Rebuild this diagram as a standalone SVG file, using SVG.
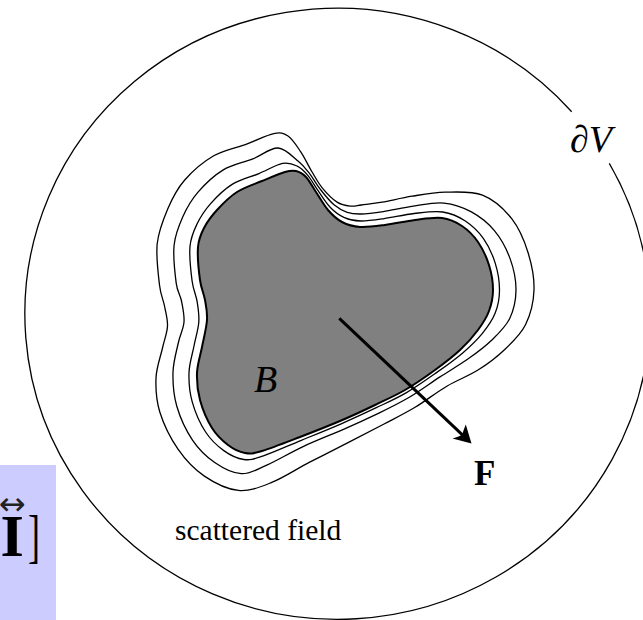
<svg xmlns="http://www.w3.org/2000/svg" width="643" height="620" viewBox="0 0 643 620">
<style>
.line{fill:none;stroke:#000;stroke-width:1.3}
.contour{fill:none;stroke:#000;stroke-width:1.3}
.body{fill:#808080;stroke:#000;stroke-width:2}
.serif{font-family:"Liberation Serif","Times New Roman",serif;fill:#000}
</style>
<rect width="643" height="620" fill="#fff"/>
<g id="side-formula">
<rect x="0" y="465" width="56" height="155" fill="#ccccff"/>
<text x="-1" y="514.5" font-family="DejaVu Sans, sans-serif" font-size="32" fill="#222">↔</text>
<text class="serif" x="0.5" y="555.7" font-size="60" font-weight="bold" fill="#1e1a1a">I</text>
<text class="serif" transform="translate(28,555.7) scale(0.6,1)" font-size="60" fill="#5a2a2a">]</text>
</g>
<g id="volume-boundary">
<path class="line" d="M609.3,163.3 A312.5,305.5 0 1 1 571.7,111.7"/>
</g>
<g id="scattered-field-contours">
<path class="contour" d="M157.2,243.8 C158.6,231.2 163.1,219.9 167.6,209.3 S176.8,189.2 184.5,180.3 S203.4,161.8 213.7,155.8 S236.6,147.8 246.6,144.1 S266.8,135 273.7,133.6 S283.5,133 288,136 S296.6,145.7 300.6,151.6 S308.2,165.5 311.8,171.5 S318,182.7 322.2,187.8 S332.4,199.1 337.1,202.1 S346.4,205.6 350.5,206.1 S356.2,205.7 361.5,205 S373.7,203.7 382.1,202.2 S401.6,197.9 412.1,196.2 S433.6,192.4 445.3,192.2 S471.4,190.8 482.5,195.2 S504.1,209.1 511.7,218.7 S524.4,240.9 528.1,252.8 S534.4,278 534,290 S530.4,314.8 525.5,324.7 S512.4,342.2 504.5,349.7 S488,363.7 478.4,369.8 S457.4,380 446.8,386.2 S425.6,401 415.1,407.3 S395.1,418.2 384.1,424 S361.4,435.8 349,442.2 S322.7,455.5 309.7,462.2 S283.1,478 271.2,482.7 S249.5,491.5 238.4,490.4 S214.5,483 204.4,476.1 S185.4,459.8 178,449.1 S163.5,423.9 159.8,412 S155.6,388.7 156,378 S160.6,356.7 162.5,348 S167.2,333 167.5,326 S165.8,312.8 164.5,306 S160.7,295.4 159.5,285 S155.9,256.4 157.2,243.8 Z"/>
<path class="contour" d="M174.1,245.2 C175.2,234.2 178.8,225.8 182.7,217 S191.1,200.2 197.8,192.4 S213.7,175.7 222.9,170.1 S243.6,162.6 252.8,158.9 S270.4,147.6 278,148 S293,157 298.3,161.3 S306,169 309.6,173.6 S316.1,184 320.2,189.2 S329.5,201 334,204.8 S342.7,210.8 347.2,212.3 S354.9,214.1 360.9,214 S374.6,212.9 383.3,211.6 S403.2,207.5 413.3,206.1 S434.2,202.1 443.9,203.1 S463,207.3 471.4,211.9 S488,222.9 494.4,230.6 S506.4,248.5 510,258.4 S516.1,280 516,290 S513.7,310.3 509.6,318.7 S498.5,333.5 491.6,340.2 S476.8,352.7 468.2,358.8 S449.8,370.5 440,376.9 S419.5,391.3 409.3,397.3 S389.9,407.8 378.9,413.1 S356.1,423.8 343.5,429.3 S316.5,440.3 303.6,446.3 S276.6,460.8 266.2,465.4 S249.9,474.2 241.3,473.7 S222.8,468.1 214.7,462.5 S198.8,449.5 192.5,440.1 S180.1,417.6 176.8,406.3 S172.7,382.7 173,372.1 S176.6,350.9 178.4,342.5 S183.5,328.9 184,322 S182.8,307.5 181.5,301 S177.4,292.4 176.2,283.1 S173,256.2 174.1,245.2 Z"/>
<path class="contour" d="M190,246.4 C190.8,237 193.5,231.4 196.9,224.3 S204.5,210.6 210.4,203.9 S224,189.5 232.1,184.4 S250.5,177.1 258.9,173.6 S276.1,164.7 282.5,163.4 S293,164.1 297.2,166.1 S304.3,171.2 307.8,175.3 S314.3,185.2 318.1,190.6 S326.2,203.2 330.6,207.7 S339.4,215.4 344.4,217.6 S353.8,220.8 360.4,221 S375.2,219.9 384.2,218.6 S404.4,214.6 414.2,213.5 S434.3,210.8 442.8,212 S458.6,216.6 465.3,221 S478.3,231.3 483.3,238.3 S492.5,254.5 495.2,263.1 S499.5,281.6 499.5,290 S498,306.1 495.1,313.3 S487.8,326.7 482.4,333.3 S470.3,346.4 462.7,352.9 S446.2,365.8 436.8,372.4 S416.6,386.7 406.5,392.6 S387.2,402.5 376.3,407.7 S353.7,418.4 341.2,423.8 S314.3,435 301.3,440.3 S273,452.6 263.4,455.8 S250.5,460.4 243.9,459.5 S230.2,455.2 223.8,450.6 S210.9,440.1 205.6,432 S195.1,412 192.3,402.1 S188.7,382.1 189,372.7 S192.5,354 194.1,345.5 S198.3,329.4 198.8,322 S198.2,308.2 197.1,301.4 S193.3,290.2 192.1,281 S189.2,255.9 190,246.4 Z"/>
</g>
<g id="body-B">
<path class="body" d="M198,247 C198.7,238.3 200.8,234.2 204,228 S211.5,216 217,210 S229.5,196.8 237,192 S254,184.3 262,181 S279.3,173.7 285,172 S292.5,170.2 296,171 S302.7,173.5 306,177 S312.3,186.5 316,192 S323.7,205 328,210 S336.7,219.2 342,222 S352.8,226.5 360,227 S375.8,226.2 385,225 S405.5,221.2 415,220 S434.2,217 442,218 S456,222 462,226 S473.5,235.5 478,242 S486.5,257 489,265 S493,282.3 493,290 S491.5,304.3 489,311 S482.8,323.5 478,330 S467.2,343.3 460,350 S444.2,363.3 435,370 S415,384.2 405,390 S385.8,399.8 375,405 S352.5,415.7 340,421 S313,432 300,437 S271.2,448.3 262,451 S250.7,454 245,453 S233.5,449.2 228,445 S216.7,435.5 212,428 S202.5,409.2 200,400 S196.7,381.8 197,373 S200.3,355.8 202,347 S206.5,327.8 207,320 S206.2,306.7 205,300 S201.2,288.8 200,280 S197.3,255.7 198,247 Z"/>
<text class="serif" x="254" y="391.5" font-size="38" font-style="italic">B</text>
</g>
<g id="connectors">
<line x1="339.3" y1="318.3" x2="464" y2="436.3" stroke="#000" stroke-width="3"/>
<path d="M471.5,443.5 L452.5,438.5 Q459.5,436.8 462.3,434.6 Q463.2,430.6 465.8,424.5 Z" fill="#000"/>
</g>
<g id="labels">
<text class="serif" x="570" y="152" font-size="38">∂<tspan font-style="italic">V</tspan></text>
<text class="serif" x="474" y="485" font-size="35" font-weight="bold">F</text>
<text class="serif" x="175" y="539.5" font-size="29.5">scattered field</text>
</g>
</svg>
